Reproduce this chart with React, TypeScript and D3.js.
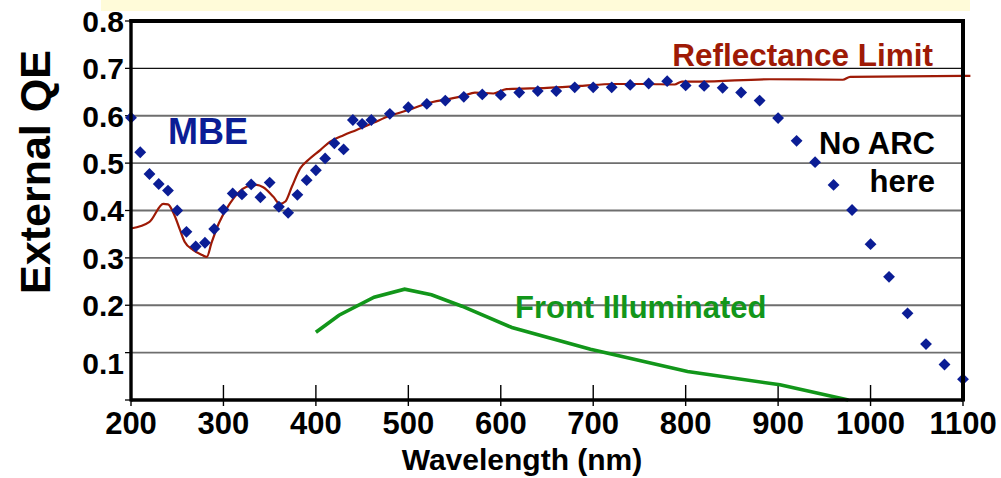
import React from "react";
import { scaleLinear, line, curveMonotoneX, symbol, symbolSquare } from "d3";

const svgWidth = 1001;
const svgHeight = 478;
const margin = { top: 21, right: 38, bottom: 78, left: 131 };
const font = "'Liberation Sans', Arial, sans-serif";

// MBE measured points
const mbeWavelength = [
  200, 210, 220, 230, 240, 250, 260, 270, 280, 290, 300, 310, 320, 330, 340,
  350, 360, 370, 380, 390, 400, 410, 420, 430, 440, 450, 460, 480, 500, 520,
  540, 560, 580, 600, 620, 640, 660, 680, 700, 720, 740, 760, 780, 800, 820,
  840, 860, 880, 900, 920, 940, 960, 980, 1000, 1020, 1040, 1060, 1080, 1100,
];
const mbeQE = [
  0.596, 0.523, 0.477, 0.456, 0.442, 0.4, 0.355, 0.324, 0.332, 0.361, 0.402,
  0.436, 0.434, 0.455, 0.428, 0.459, 0.408, 0.395, 0.433, 0.464, 0.485, 0.51,
  0.542, 0.529, 0.591, 0.583, 0.591, 0.604, 0.618, 0.625, 0.632, 0.64, 0.645,
  0.644, 0.649, 0.652, 0.652, 0.66, 0.66, 0.66, 0.665, 0.668, 0.673, 0.664,
  0.663, 0.659, 0.649, 0.632, 0.595, 0.547, 0.502, 0.454, 0.401, 0.329, 0.26,
  0.183, 0.118, 0.075, 0.044,
];

// reflectance limit curve
const reflWavelength = [
  200, 220, 235, 240, 247, 253, 258, 267, 277, 282, 287, 295, 307, 325, 336,
  343, 354, 361, 367, 374, 383, 392, 405, 415, 430, 444, 462, 480, 500, 520,
  542, 560, 572, 592, 606, 650, 686, 722, 758, 788, 796, 815, 891, 970, 978,
  1100, 1108,
];
const reflQE = [
  0.362, 0.376, 0.414, 0.413, 0.39, 0.359, 0.334, 0.317, 0.306, 0.302, 0.331,
  0.373, 0.415, 0.45, 0.454, 0.449, 0.429, 0.414, 0.419, 0.45, 0.489, 0.507,
  0.528, 0.545, 0.559, 0.57, 0.585, 0.6, 0.612, 0.626, 0.635, 0.642, 0.649,
  0.647, 0.656, 0.659, 0.663, 0.667, 0.667, 0.666, 0.672, 0.672, 0.677, 0.676,
  0.682, 0.684, 0.684,
];

// front illuminated curve
const frontWavelength = [400, 425, 463, 496, 525, 558, 612, 697, 802, 902, 976];
const frontQE = [0.143, 0.179, 0.217, 0.234, 0.222, 0.198, 0.153, 0.107, 0.06, 0.032, 0.0];

const xTicks = [200, 300, 400, 500, 600, 700, 800, 900, 1000, 1100];
const yTicks = [0.1, 0.2, 0.3, 0.4, 0.5, 0.6, 0.7, 0.8];
const gridTicks = [0.1, 0.2, 0.3, 0.4, 0.5, 0.6, 0.7];

const blue = "#0b1d95";
const red = "#9e1a06";
const green = "#12961a";

function App() {
  const xScale = scaleLinear()
    .domain([200, 1100])
    .range([margin.left, svgWidth - margin.right]);
  const yScale = scaleLinear()
    .domain([0, 0.8])
    .range([svgHeight - margin.bottom, margin.top]);

  const x0 = xScale(200);
  const x1 = xScale(1100);
  const y0 = yScale(0);
  const yTop = yScale(0.8);

  const reflData = reflWavelength.map((w, i) => [w, reflQE[i]]);
  const frontData = frontWavelength.map((w, i) => [w, frontQE[i]]);

  const reflPath = line<number[]>()
    .x((d) => xScale(d[0]))
    .y((d) => yScale(d[1]))
    .curve(curveMonotoneX);
  const frontPath = line<number[]>()
    .x((d) => xScale(d[0]))
    .y((d) => yScale(d[1]));

  const diamond = symbol().type(symbolSquare).size(70)();

  return (
    <svg
      width={svgWidth}
      height={svgHeight}
      style={{ position: "absolute", left: 0, top: 0, background: "#fff" }}
      fontFamily={font}
      fontWeight="bold"
    >
      <rect x={101} y={0} width={869} height={11} fill="#fffbd9" />

      {/* grid */}
      {gridTicks.map((t) => (
        <line
          key={`g${t}`}
          x1={x0}
          x2={x1}
          y1={yScale(t)}
          y2={yScale(t)}
          stroke={t === 0.7 ? "#111" : "#6e6e6e"}
          strokeWidth={t === 0.7 ? 1.3 : 1.8}
        />
      ))}

      {/* y ticks */}
      {yTicks.concat([0]).map((t) => (
        <line
          key={`yt${t}`}
          x1={x0 - 6}
          x2={x0}
          y1={yScale(t)}
          y2={yScale(t)}
          stroke="#000"
          strokeWidth={1.3}
        />
      ))}
      {yTicks.map((t) => (
        <text
          key={`yl${t}`}
          x={124}
          y={yScale(t) + (t === 0.1 ? 11 : 0)}
          dy="0.36em"
          textAnchor="end"
          fontSize={30}
          fill="#000"
        >
          {t.toFixed(1)}
        </text>
      ))}

      {/* x ticks */}
      {xTicks.map((t) => (
        <g key={`xt${t}`} transform={`translate(${xScale(t)},0)`}>
          <line y1={y0 - 15} y2={y0 + 6} stroke="#000" strokeWidth={1.4} />
          <text y={434} textAnchor="middle" fontSize={31} fill="#000">
            {t}
          </text>
        </g>
      ))}

      {/* curves */}
      <path
        d={frontPath(frontData) || ""}
        fill="none"
        stroke={green}
        strokeWidth={3.6}
      />
      <path
        d={reflPath(reflData) || ""}
        fill="none"
        stroke={red}
        strokeWidth={2.2}
      />
      {mbeWavelength.map((w, i) => (
        <path
          key={`m${w}`}
          d={diamond || ""}
          transform={`translate(${xScale(w)},${yScale(mbeQE[i])}) rotate(45)`}
          fill={blue}
        />
      ))}

      {/* frame */}
      <line x1={x0} x2={x0} y1={yTop - 2} y2={y0 + 1.5} stroke="#000" strokeWidth={3.4} />
      <line x1={x0} x2={x1} y1={y0} y2={y0} stroke="#000" strokeWidth={3.4} />
      <line x1={x0 - 1.5} x2={x1 + 2} y1={yTop} y2={yTop} stroke="#000" strokeWidth={4} />
      <line x1={x1} x2={x1} y1={yTop - 2} y2={y0 + 1.5} stroke="#000" strokeWidth={4} />

      {/* annotations */}
      <text x={168} y={144} fontSize={36} fill={blue}>
        MBE
      </text>
      <text x={933} y={66} textAnchor="end" fontSize={31.5} fill={red}>
        Reflectance Limit
      </text>
      <text x={935} y={154} textAnchor="end" fontSize={31} fill="#000">
        No ARC
      </text>
      <text x={935} y={192} textAnchor="end" fontSize={31} fill="#000">
        here
      </text>
      <text x={515} y={318} fontSize={31} fill={green}>
        Front Illuminated
      </text>

      {/* axis titles */}
      <text x={522} y={470} textAnchor="middle" fontSize={30} fill="#000">
        Wavelength (nm)
      </text>
      <text
        transform={`translate(50,172) rotate(-90)`}
        textAnchor="middle"
        fontSize={43}
        fill="#000"
      >
        External QE
      </text>
    </svg>
  );
}

export default App;
